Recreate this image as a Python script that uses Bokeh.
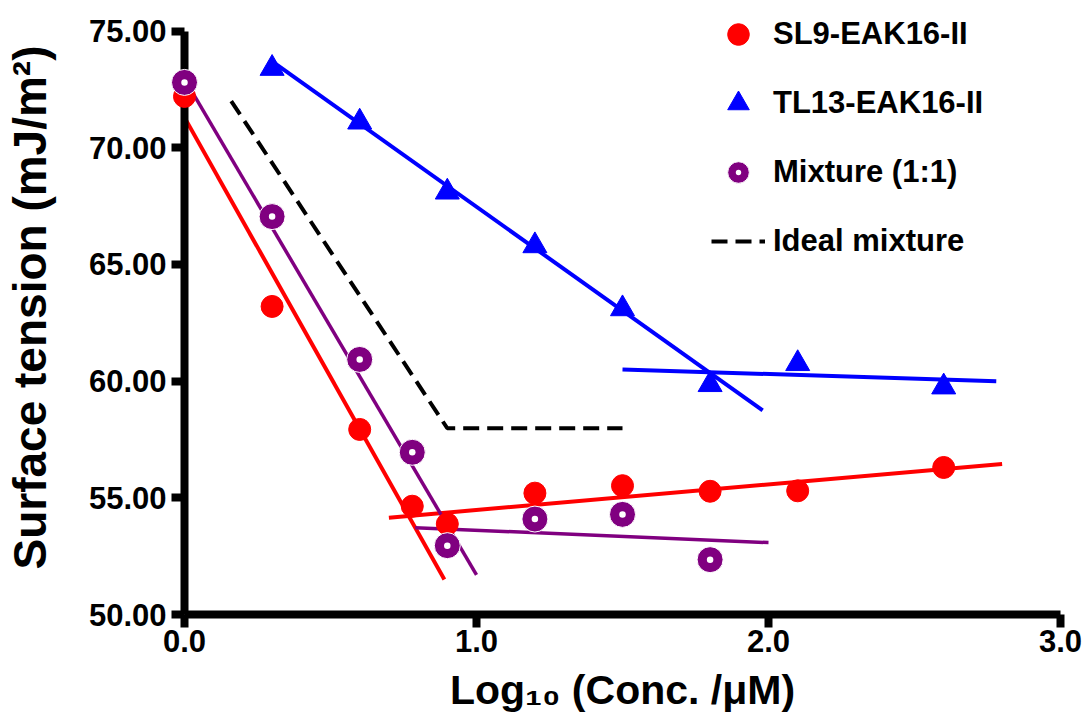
from bokeh.plotting import figure
from bokeh.models import Range1d, FixedTicker, Legend, LegendItem, NumeralTickFormatter
from bokeh.embed import file_html
from bokeh.resources import INLINE

# ---- data ----
x_sl9 = [0.0, 0.3, 0.6, 0.78, 0.9, 1.2, 1.5, 1.8, 2.1, 2.6]
y_sl9 = [72.2, 63.2, 57.93, 54.64, 53.88, 55.2, 55.52, 55.28, 55.3, 56.3]

x_tl13 = [0.3, 0.6, 0.9, 1.2, 1.5, 1.8, 2.1, 2.6]
y_tl13 = [73.4, 71.1, 68.1, 65.8, 63.1, 59.85, 60.75, 59.75]

x_mix = [0.0, 0.3, 0.6, 0.78, 0.9, 1.2, 1.5, 1.8]
y_mix = [72.8, 67.05, 60.93, 56.95, 52.95, 54.09, 54.29, 52.35]

# fitted lines (end points)
sl9_fit1_x = [0.0, 0.89]
sl9_fit1_y = [71.3, 51.5]
sl9_fit2_x = [0.7, 2.8]
sl9_fit2_y = [54.15, 56.45]

tl13_fit1_x = [0.3, 1.98]
tl13_fit1_y = [73.7, 58.75]
tl13_fit2_x = [1.5, 2.78]
tl13_fit2_y = [60.5, 60.0]

mix_fit1_x = [0.0, 1.0]
mix_fit1_y = [72.95, 51.7]
mix_fit2_x = [0.79, 2.0]
mix_fit2_y = [53.72, 53.08]

ideal_x = [0.16, 0.9, 1.5]
ideal_y = [72.0, 57.98, 57.98]

x_ticks = [0.0, 1.0, 2.0, 3.0]
y_ticks = [50, 55, 60, 65, 70, 75]

RED = "#ff0000"
BLUE = "#0000ff"
PURPLE = "#800080"
FONT = "Liberation Sans"

# y range extends a little above 75 so the legend has room; the axis itself stops at 75
p = figure(width=1083, height=721, output_backend="svg", toolbar_location=None,
           x_range=Range1d(0, 3), y_range=Range1d(50, 76.31),
           min_border_left=184, min_border_right=23, min_border_top=0, min_border_bottom=107)
p.outline_line_color = None
p.grid.visible = False
p.background_fill_color = "white"
p.border_fill_color = "white"

# fit lines
p.line(sl9_fit1_x, sl9_fit1_y, line_color=RED, line_width=4)
p.line(sl9_fit2_x, sl9_fit2_y, line_color=RED, line_width=4)
p.line(tl13_fit1_x, tl13_fit1_y, line_color=BLUE, line_width=4)
p.line(tl13_fit2_x, tl13_fit2_y, line_color=BLUE, line_width=4)
p.line(mix_fit1_x, mix_fit1_y, line_color=PURPLE, line_width=3.5)
p.line(mix_fit2_x, mix_fit2_y, line_color=PURPLE, line_width=3.5)
r_ideal = p.line(ideal_x, ideal_y, line_color="black", line_width=4, line_dash="16 8")

# markers
r_sl9 = p.scatter(x_sl9, y_sl9, marker="circle", size=22, fill_color=RED, line_color=RED, level="overlay")
r_tl13 = p.scatter(x_tl13, y_tl13, marker="triangle", size=24, fill_color=BLUE, line_color=BLUE, level="overlay")
r_mix = p.scatter(x_mix, y_mix, marker="circle_dot", size=26, fill_color=PURPLE, line_color="white",
                  line_width=1, level="overlay")

# axes
for ax in (p.xaxis[0], p.yaxis[0]):
    ax.axis_line_width = 8
    ax.axis_line_color = "black"
    ax.major_tick_line_width = 8
    ax.major_tick_line_color = "black"
    ax.major_tick_in = 0
    ax.major_tick_out = 13
    ax.minor_tick_line_color = None
    ax.major_label_text_font = FONT
    ax.major_label_text_font_style = "bold"
    ax.major_label_text_font_size = "31px"
    ax.major_label_text_color = "black"
    ax.axis_label_text_font = FONT
    ax.axis_label_text_font_style = "bold"
    ax.axis_label_text_color = "black"

p.xaxis[0].ticker = FixedTicker(ticks=x_ticks)
p.xaxis[0].formatter = NumeralTickFormatter(format="0.0")
p.xaxis[0].major_label_standoff = 2
p.xaxis[0].axis_label = "Log\u2081\u2080 (Conc. /\u03bcM)"
p.xaxis[0].axis_label_text_font_size = "41px"
p.xaxis[0].axis_label_standoff = 12

p.yaxis[0].ticker = FixedTicker(ticks=y_ticks)
p.yaxis[0].bounds = (50, 75)
p.yaxis[0].formatter = NumeralTickFormatter(format="0.00")
p.yaxis[0].major_label_standoff = 5
p.yaxis[0].axis_label = "Surface tension (mJ/m\u00b2)"
p.yaxis[0].axis_label_text_font_size = "46px"
p.yaxis[0].axis_label_standoff = 30

legend = Legend(items=[
    LegendItem(label="SL9-EAK16-II", renderers=[r_sl9]),
    LegendItem(label="TL13-EAK16-II", renderers=[r_tl13]),
    LegendItem(label="Mixture (1:1)", renderers=[r_mix]),
    LegendItem(label="Ideal mixture", renderers=[r_ideal]),
], location=(527, 346), orientation="vertical",
    glyph_width=54, glyph_height=54, spacing=15, padding=0, margin=0,
    label_standoff=8, border_line_color=None, background_fill_alpha=0,
    label_text_font=FONT, label_text_font_style="bold", label_text_font_size="31px",
    label_text_color="black")
p.add_layout(legend, "center")

open("out.html", "w").write(file_html(p, INLINE))
